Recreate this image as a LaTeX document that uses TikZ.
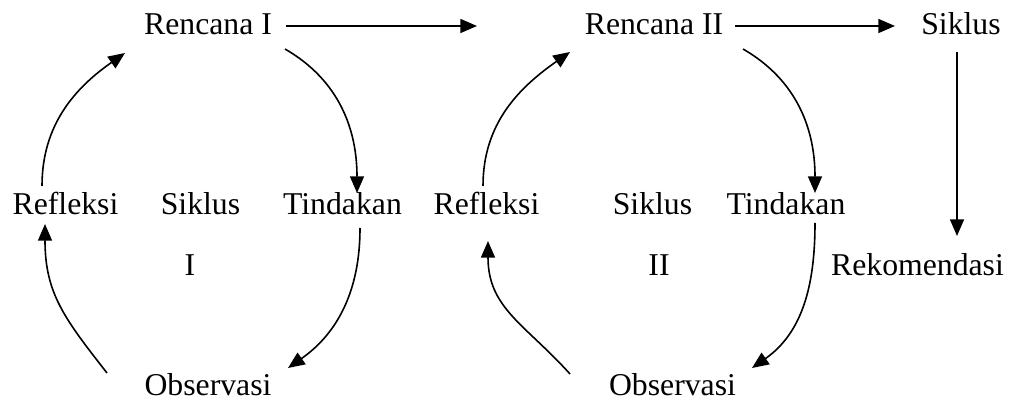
\documentclass[tikz,border=0pt]{standalone}
\usepackage{fontspec}
\setmainfont{Liberation Serif}
\usetikzlibrary{arrows.meta}
\begin{document}
\begin{tikzpicture}[x=0.75pt,y=0.75pt,
  lbl/.style={inner sep=0pt, anchor=base, font=\fontsize{23.8}{28}\selectfont},
  conn/.style={line width=1.2pt, -{Triangle[length=12.5pt,width=10.5pt]}}]
\useasboundingbox (0,0) rectangle (1010,402);
% nodes
\node[lbl] (r1) at (208,367) {Rencana I};
\node[lbl] (r2) at (654,367) {Rencana II};
\node[lbl] (sk) at (961,367) {Siklus};
\node[lbl] (ref1) at (65.5,187) {Refleksi};
\node[lbl] (s1) at (200.5,187) {Siklus};
\node[lbl] (t1) at (342.5,187) {Tindakan};
\node[lbl] (ref2) at (486.5,187) {Refleksi};
\node[lbl] (s2) at (652.5,187) {Siklus};
\node[lbl] (t2) at (786,187) {Tindakan};
\node[lbl] (n1) at (190,126) {I};
\node[lbl] (n2) at (659,126) {II};
\node[lbl] (rek) at (917.5,126) {Rekomendasi};
\node[lbl] (o1) at (208,6) {Observasi};
\node[lbl] (o2) at (672.5,6) {Observasi};
% straight connectors
\draw[conn] ([shift={(78,9)}]r1.base) -- ([shift={(-177,9)}]r2.base);
\draw[conn] ([shift={(81,9)}]r2.base) -- ([shift={(-66,9)}]sk.base);
\draw[conn] ([shift={(-4,-17)}]sk.base) -- ([shift={(39.5,40)}]rek.base);
% cycle I
\draw[conn] ([shift={(77,-14)}]r1.base) to[out=-30,in=90] ([shift={(14.5,22)}]t1.base);
\draw[conn] ([shift={(17.5,-13)}]t1.base) to[out=-90,in=35] ([shift={(80,28)}]o1.base);
\draw[conn] ([shift={(-101,23)}]o1.base) to[out=128,in=-90,looseness=1.1] ([shift={(-20.5,-9)}]ref1.base);
\draw[conn] ([shift={(-23.5,29)}]ref1.base) to[out=90,in=215] ([shift={(-83,-18)}]r1.base);
% cycle II
\draw[conn] ([shift={(89,-14)}]r2.base) to[out=-30,in=90] ([shift={(29,22)}]t2.base);
\draw[conn] ([shift={(29,-8)}]t2.base) to[out=-90,in=35] ([shift={(79.5,28)}]o2.base);
\draw[conn] ([shift={(-102.5,22)}]o2.base) to[out=132,in=-90,looseness=1.1] ([shift={(1.5,-26)}]ref2.base);
\draw[conn] ([shift={(-3.5,29)}]ref2.base) to[out=90,in=215] ([shift={(-84,-17)}]r2.base);
\end{tikzpicture}
\end{document}
